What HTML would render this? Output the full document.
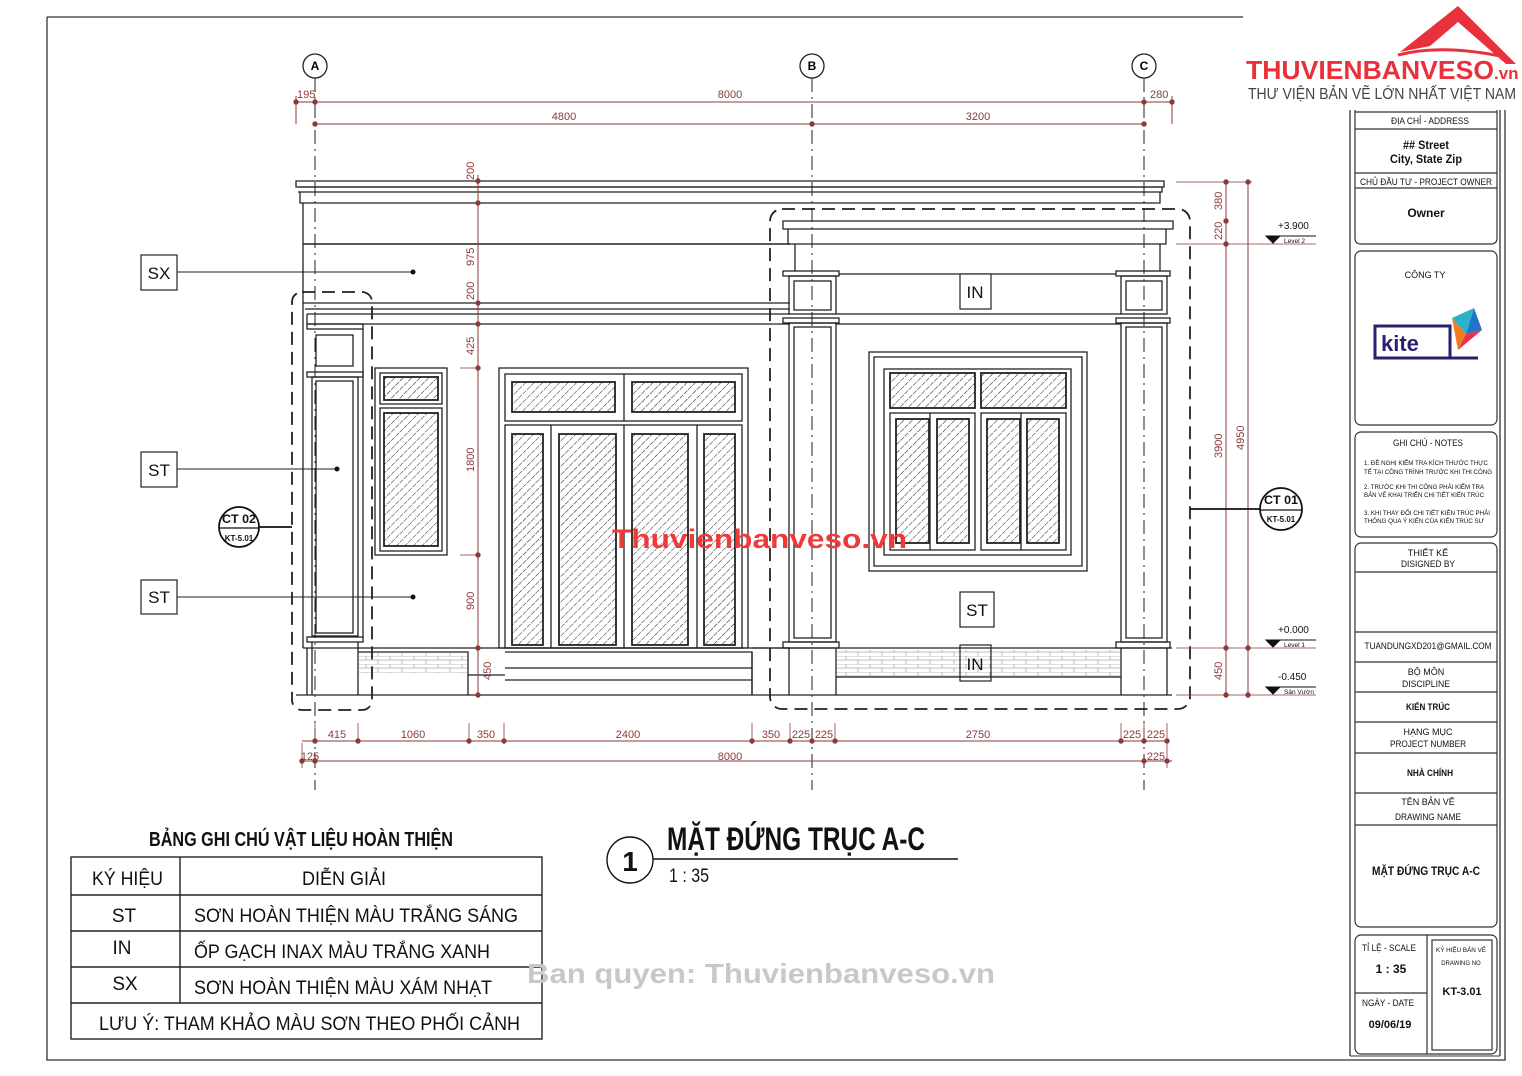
<!DOCTYPE html>
<html><head><meta charset="utf-8"><style>
html,body{margin:0;padding:0;background:#fff}
svg{display:block}
text{font-family:"Liberation Sans Narrow","Liberation Sans","DejaVu Sans",sans-serif}
.d{fill:#8b3a3a;font-size:11px}
.b{font-family:"Liberation Sans",sans-serif}
</style></head><body>
<svg width="1522" height="1076" viewBox="0 0 1522 1076" xmlns="http://www.w3.org/2000/svg">
<defs>
<pattern id="h" width="6" height="6" patternUnits="userSpaceOnUse" patternTransform="rotate(45)">
<line x1="0" y1="0" x2="0" y2="6" stroke="#222" stroke-width="1" stroke-dasharray="5 1.5"/>
</pattern>
<pattern id="br" width="24" height="8" patternUnits="userSpaceOnUse">
<rect width="24" height="8" fill="#fff"/>
<path d="M0 0H24M0 4H24M6 0V4M18 4V8" stroke="#aaa" stroke-width="0.8"/>
</pattern>
</defs>
<rect width="1522" height="1076" fill="#fff"/>
<path d="M47 17H1243M47 17V1060H1505V110M1350 110V1056M1500 110V1056" stroke="#333" stroke-width="1.3" fill="none"/>
<line x1="1350" y1="1056" x2="1500" y2="1056" stroke="#333"/>
<g stroke="#222" stroke-width="1" stroke-dasharray="14 5 2 5">
<line x1="315" y1="78" x2="315" y2="790"/><line x1="812" y1="78" x2="812" y2="790"/><line x1="1144" y1="78" x2="1144" y2="790"/>
</g>
<g fill="#fff" stroke="#222" stroke-width="1.3">
<circle cx="315" cy="66" r="12"/><circle cx="812" cy="66" r="12"/><circle cx="1144" cy="66" r="12"/>
</g>
<g class="b" font-size="12" font-weight="bold" text-anchor="middle">
<text x="315" y="70">A</text><text x="812" y="70">B</text><text x="1144" y="70">C</text>
</g>
<g stroke="#8b3a3a" stroke-width="1" fill="#8b3a3a">
<line x1="296" y1="102" x2="1172" y2="102"/><line x1="315" y1="124" x2="1144" y2="124"/>
<line x1="296" y1="96" x2="296" y2="124"/><line x1="1172" y1="96" x2="1172" y2="124"/>
<circle cx="296" cy="102" r="2.2"/><circle cx="315" cy="102" r="2.2"/><circle cx="1144" cy="102" r="2.2"/><circle cx="1172" cy="102" r="2.2"/>
<circle cx="315" cy="124" r="2.2"/><circle cx="812" cy="124" r="2.2"/><circle cx="1144" cy="124" r="2.2"/>
</g>
<text class="d" x="297" y="98">195</text><text class="d" x="730" y="98" text-anchor="middle">8000</text><text class="d" x="1150" y="98">280</text>
<text class="d" x="564" y="120" text-anchor="middle">4800</text><text class="d" x="978" y="120" text-anchor="middle">3200</text>

<g stroke="#222" stroke-width="1.3" fill="none">
<path d="M296 181H1164V187H296Z"/><path d="M298 187H1162V192H298"/><path d="M300 192V203H1160V192"/>
<line x1="303" y1="203" x2="303" y2="648"/>
<line x1="303" y1="244" x2="790" y2="244" stroke-width="1.6"/>
<path d="M303 303H790M305 309H790M307 314H790M307 324H790M307 314V324"/>
<rect x="307" y="324" width="56" height="5"/>
<rect x="316" y="335" width="37" height="31"/>
<rect x="307" y="372" width="56" height="5"/>
<rect x="312" y="377" width="46" height="259"/>
<rect x="316" y="381" width="37" height="252"/>
<rect x="307" y="637" width="56" height="5"/>
<line x1="312" y1="642" x2="312" y2="695"/><line x1="358" y1="642" x2="358" y2="695"/>
<line x1="307" y1="648" x2="307" y2="695"/>
<line x1="363" y1="329" x2="363" y2="637"/>
<rect x="375" y="368" width="72" height="187"/>
<rect x="380" y="373" width="62" height="31"/>
<rect x="380" y="408" width="62" height="143"/>
<rect x="499" y="368" width="249" height="280"/>
<rect x="505" y="374" width="237" height="47"/>
<line x1="624" y1="374" x2="624" y2="421"/>
<rect x="505" y="425" width="237" height="223"/>
<line x1="551" y1="425" x2="551" y2="648"/><line x1="624" y1="425" x2="624" y2="648"/><line x1="697" y1="425" x2="697" y2="648"/>
<line x1="303" y1="648" x2="790" y2="648"/>
<path d="M358 652H468V695M505 652H752V695M505 668H752M505 680H752M468 675H505"/>
<line x1="296" y1="695" x2="1172" y2="695"/>
<path d="M783 221H1173V229H783Z"/><path d="M788 229V244H1166V229"/>
<path d="M795 244V271M1160 244V271"/>
<rect x="783" y="271" width="56" height="5"/><rect x="1116" y="271" width="54" height="5"/>
<line x1="839" y1="274" x2="1116" y2="274"/>
<rect x="789" y="276" width="47" height="38"/><rect x="794" y="281" width="37" height="29"/>
<rect x="1121" y="276" width="46" height="38"/><rect x="1126" y="281" width="36" height="29"/>
<line x1="836" y1="314" x2="1121" y2="314"/><line x1="836" y1="324" x2="1121" y2="324"/>
<rect x="783" y="318" width="56" height="5"/><rect x="1116" y="318" width="54" height="5"/>
<rect x="789" y="323" width="47" height="319"/><rect x="794" y="327" width="37" height="311"/>
<rect x="1121" y="323" width="46" height="319"/><rect x="1126" y="327" width="36" height="311"/>
<rect x="783" y="642" width="56" height="6"/><rect x="1116" y="642" width="54" height="6"/>
<line x1="752" y1="648" x2="1172" y2="648"/>
<path d="M789 648V695M836 648V695M1121 648V695M1167 648V695M752 652V695"/>
<rect x="869" y="352" width="218" height="219"/>
<rect x="874" y="357" width="208" height="209"/>
<rect x="884" y="369" width="187" height="186"/>
<rect x="890" y="413" width="85" height="137"/><rect x="981" y="413" width="85" height="137"/>
<line x1="930" y1="413" x2="930" y2="550"/><line x1="1021" y1="413" x2="1021" y2="550"/>
</g>
<g fill="url(#h)" stroke="#222" stroke-width="1.8">
<rect x="384" y="377" width="54" height="23"/><rect x="384" y="413" width="54" height="133"/>
<rect x="512" y="382" width="103" height="30"/><rect x="632" y="382" width="103" height="30"/>
<rect x="512" y="434" width="31" height="211"/><rect x="559" y="434" width="57" height="211"/>
<rect x="632" y="434" width="56" height="211"/><rect x="704" y="434" width="31" height="211"/>
<rect x="890" y="373" width="85" height="35"/><rect x="981" y="373" width="85" height="35"/>
<rect x="896" y="419" width="33" height="124"/><rect x="937" y="419" width="32" height="124"/>
<rect x="987" y="419" width="33" height="124"/><rect x="1027" y="419" width="32" height="124"/>
</g>
<rect x="359" y="653" width="108" height="20" fill="url(#br)"/>
<rect x="837" y="650" width="283" height="27" fill="url(#br)"/>
<line x1="836" y1="677" x2="1121" y2="677" stroke="#222" stroke-width="1.3"/>
<g fill="none" stroke="#222" stroke-width="1.8" stroke-dasharray="13 7">
<rect x="292" y="292" width="80" height="418" rx="10"/>
<rect x="770" y="209" width="420" height="500" rx="12"/>
<line x1="390" y1="648" x2="790" y2="648" stroke-width="1"/>
</g>
<g stroke="#8b3a3a" stroke-width="1" fill="#8b3a3a">
<line x1="478" y1="175" x2="478" y2="695"/>
<line x1="1226" y1="182" x2="1226" y2="695"/><line x1="1248" y1="182" x2="1248" y2="695"/>
<g><circle cx="478" cy="181" r="2.2"/><circle cx="478" cy="203" r="2.2"/><circle cx="478" cy="303" r="2.2"/><circle cx="478" cy="324" r="2.2"/><circle cx="478" cy="368" r="2.2"/><circle cx="478" cy="555" r="2.2"/><circle cx="478" cy="648" r="2.2"/><circle cx="478" cy="695" r="2.2"/>
<circle cx="1226" cy="182" r="2.2"/><circle cx="1226" cy="221" r="2.2"/><circle cx="1226" cy="244" r="2.2"/><circle cx="1226" cy="648" r="2.2"/><circle cx="1226" cy="695" r="2.2"/>
<circle cx="1248" cy="182" r="2.2"/><circle cx="1248" cy="648" r="2.2"/><circle cx="1248" cy="695" r="2.2"/></g>
<path d="M460 368H478M460 555H478M1176 182H1252M1176 244H1316M1176 648H1316M1176 695H1316" stroke-width="0.8"/>
</g>
<g class="d">
<text transform="translate(474 180) rotate(-90)">200</text>
<text transform="translate(474 266) rotate(-90)">975</text>
<text transform="translate(474 300) rotate(-90)">200</text>
<text transform="translate(474 355) rotate(-90)">425</text>
<text transform="translate(474 472) rotate(-90)">1800</text>
<text transform="translate(474 610) rotate(-90)">900</text>
<text transform="translate(491 680) rotate(-90)">450</text>
<text transform="translate(1222 210) rotate(-90)">380</text>
<text transform="translate(1222 240) rotate(-90)">220</text>
<text transform="translate(1222 458) rotate(-90)">3900</text>
<text transform="translate(1244 450) rotate(-90)">4950</text>
<text transform="translate(1222 680) rotate(-90)">450</text>
</g>
<g fill="#111" stroke="#111" stroke-width="1">
<path d="M1266 236H1316"/><path d="M1266 236L1280 236L1273 243Z"/>
<path d="M1266 640H1316"/><path d="M1266 640L1280 640L1273 647Z"/>
<path d="M1266 687H1316"/><path d="M1266 687L1280 687L1273 694Z"/>
</g>
<g font-size="10" fill="#111"><text x="1278" y="229">+3.900</text><text x="1278" y="633">+0.000</text><text x="1278" y="680">-0.450</text></g>
<g font-size="6.5" fill="#111"><text x="1284" y="243">Level 2</text><text x="1284" y="647">Level 1</text><text x="1284" y="694">Sân Vườn</text></g>
<g fill="#fff" stroke="#222" stroke-width="1.2">
<rect x="141" y="255" width="36" height="35"/><rect x="141" y="452" width="36" height="35"/><rect x="141" y="580" width="36" height="34"/>
<rect x="960" y="274" width="31" height="35"/><rect x="960" y="592" width="34" height="35"/>
</g>
<rect x="960" y="645" width="31" height="36" fill="none" stroke="#222" stroke-width="1.2"/>
<g font-size="17" text-anchor="middle" fill="#111">
<text x="159" y="279">SX</text><text x="159" y="476">ST</text><text x="159" y="603">ST</text>
<text x="975" y="298">IN</text><text x="977" y="616">ST</text><text x="975" y="670">IN</text>
</g>
<g stroke="#222" stroke-width="1">
<line x1="177" y1="272" x2="413" y2="272"/><line x1="177" y1="469" x2="337" y2="469"/><line x1="177" y1="597" x2="413" y2="597"/>
</g>
<g fill="#111"><circle cx="413" cy="272" r="2.5"/><circle cx="337" cy="469" r="2.5"/><circle cx="413" cy="597" r="2.5"/></g>
<g stroke="#111" stroke-width="1.8" fill="#fff">
<line x1="259" y1="527" x2="292" y2="527"/><circle cx="239" cy="527" r="20"/><line x1="219" y1="528" x2="259" y2="528" stroke-width="1.2"/>
<line x1="1190" y1="509" x2="1260" y2="509"/><circle cx="1281" cy="509" r="21"/><line x1="1260" y1="510" x2="1302" y2="510" stroke-width="1.2"/>
</g>
<g class="b" font-weight="bold" text-anchor="middle" fill="#111">
<text x="239" y="523" font-size="12" textLength="34" lengthAdjust="spacingAndGlyphs">CT 02</text><text x="239" y="541" font-size="8">KT-5.01</text>
<text x="1281" y="504" font-size="12" textLength="34" lengthAdjust="spacingAndGlyphs">CT 01</text><text x="1281" y="522" font-size="8">KT-5.01</text>
</g>
<g stroke="#8b3a3a" stroke-width="1" fill="#8b3a3a">
<line x1="302" y1="741" x2="1167" y2="741"/><line x1="302" y1="761" x2="1172" y2="761"/>
<path d="M315 723V742M358 723V742M469 723V742M504 723V742M752 723V742M790 723V742M835 723V742M1121 723V742M1167 723V768M302 743V768M1144 723V742" stroke-width="0.8"/>
<g><circle cx="315" cy="741" r="2.2"/><circle cx="358" cy="741" r="2.2"/><circle cx="469" cy="741" r="2.2"/><circle cx="504" cy="741" r="2.2"/><circle cx="752" cy="741" r="2.2"/><circle cx="790" cy="741" r="2.2"/><circle cx="812" cy="741" r="2.2"/><circle cx="835" cy="741" r="2.2"/><circle cx="1121" cy="741" r="2.2"/><circle cx="1144" cy="741" r="2.2"/><circle cx="1167" cy="741" r="2.2"/>
<circle cx="302" cy="761" r="2.2"/><circle cx="315" cy="761" r="2.2"/><circle cx="1144" cy="761" r="2.2"/><circle cx="1167" cy="761" r="2.2"/></g>
</g>
<g class="d" text-anchor="middle">
<text x="337" y="738">415</text><text x="413" y="738">1060</text><text x="486" y="738">350</text><text x="628" y="738">2400</text><text x="771" y="738">350</text><text x="801" y="738">225</text><text x="824" y="738">225</text><text x="978" y="738">2750</text><text x="1132" y="738">225</text><text x="1156" y="738">225</text>
<text x="310" y="760">125</text><text x="730" y="760">8000</text><text x="1156" y="760">225</text>
</g>
<text class="b" x="612" y="548" font-size="27" font-weight="bold" fill="#f03a3a" textLength="295" lengthAdjust="spacingAndGlyphs">Thuvienbanveso.vn</text>
<text x="149" y="846" font-size="20" font-weight="bold" fill="#111" textLength="304" lengthAdjust="spacingAndGlyphs">BẢNG GHI CHÚ VẬT LIỆU HOÀN THIỆN</text>
<g stroke="#222" stroke-width="1.4" fill="none">
<rect x="71" y="857" width="471" height="182"/>
<path d="M71 895H542M71 931H542M71 967H542M71 1003H542M180 857V1003"/>
</g>
<g font-size="19" fill="#111" lengthAdjust="spacingAndGlyphs">
<text x="92" y="885" textLength="71" lengthAdjust="spacingAndGlyphs">KÝ HIỆU</text><text x="302" y="885" textLength="84" lengthAdjust="spacingAndGlyphs">DIỄN GIẢI</text>
<text x="124" y="922" text-anchor="middle">ST</text><text x="194" y="922" textLength="324" lengthAdjust="spacingAndGlyphs">SƠN HOÀN THIỆN MÀU TRẮNG SÁNG</text>
<text x="122" y="954" text-anchor="middle">IN</text><text x="194" y="958" textLength="296" lengthAdjust="spacingAndGlyphs">ỐP GẠCH INAX MÀU TRẮNG XANH</text>
<text x="125" y="990" text-anchor="middle">SX</text><text x="194" y="994" textLength="298" lengthAdjust="spacingAndGlyphs">SƠN HOÀN THIỆN MÀU XÁM NHẠT</text>
<text x="99" y="1030" textLength="421" lengthAdjust="spacingAndGlyphs">LƯU Ý: THAM KHẢO MÀU SƠN THEO PHỐI CẢNH</text>
</g>
<text class="b" x="527" y="983" font-size="28" font-weight="bold" fill="#c8c8c8" textLength="468" lengthAdjust="spacingAndGlyphs">Ban quyen: Thuvienbanveso.vn</text>
<circle cx="630" cy="860" r="23" fill="none" stroke="#111" stroke-width="1.4"/>
<text x="630" y="871" font-size="28" font-weight="bold" text-anchor="middle" fill="#111">1</text>
<line x1="653" y1="859" x2="958" y2="859" stroke="#111" stroke-width="1.4"/>
<text x="667" y="850" font-size="32" font-weight="bold" fill="#111" textLength="258" lengthAdjust="spacingAndGlyphs">MẶT ĐỨNG TRỤC A-C</text>
<text x="669" y="882" font-size="19" fill="#111" textLength="40" lengthAdjust="spacingAndGlyphs">1 : 35</text>
<path d="M1400 52L1458 6L1516 64L1506 64L1458 22L1430 46Z" fill="#e8313a"/>
<path d="M1398 55Q1440 44 1500 56" stroke="#e8313a" stroke-width="3" fill="none"/>
<text class="b" x="1246" y="79" font-size="26" font-weight="bold" fill="#e8313a" textLength="248" lengthAdjust="spacingAndGlyphs">THUVIENBANVESO</text>
<text class="b" x="1494" y="79" font-size="17" font-weight="bold" fill="#e8313a">.vn</text>
<text x="1248" y="99" font-size="16" fill="#444" textLength="268" lengthAdjust="spacingAndGlyphs">THƯ VIỆN BẢN VẼ LỚN NHẤT VIỆT NAM</text>
<g stroke="#333" stroke-width="1.2" fill="none">
<path d="M1355 110V238Q1355 244 1361 244H1491Q1497 244 1497 238V110"/>
<path d="M1355 129H1497M1355 173H1497M1355 188H1497M1355 112H1497"/>
<rect x="1355" y="251" width="142" height="174" rx="6"/>
<rect x="1355" y="432" width="142" height="105" rx="6"/>
<rect x="1355" y="543" width="142" height="384" rx="6"/>
<path d="M1355 572H1497M1355 632H1497M1355 662H1497M1355 692H1497M1355 722H1497M1355 753H1497M1355 793H1497M1355 825H1497"/>
<rect x="1355" y="935" width="142" height="119" rx="6"/>
<path d="M1427 935V1054M1355 993H1427"/>
<rect x="1432" y="940" width="60" height="110"/>
</g>
<g font-size="9" fill="#111" text-anchor="middle">
<text x="1430" y="124" textLength="78" lengthAdjust="spacingAndGlyphs">ĐỊA CHỈ - ADDRESS</text>
<text x="1426" y="149" font-size="11.5" font-weight="bold" textLength="46" lengthAdjust="spacingAndGlyphs">## Street</text>
<text x="1426" y="163" font-size="11.5" font-weight="bold" textLength="72" lengthAdjust="spacingAndGlyphs">City, State  Zip</text>
<text x="1426" y="185" textLength="132" lengthAdjust="spacingAndGlyphs">CHỦ ĐẦU TƯ - PROJECT OWNER</text>
<text x="1426" y="217" font-size="12" font-weight="bold">Owner</text>
<text x="1425" y="278">CÔNG TY</text>
<text x="1428" y="446" textLength="70" lengthAdjust="spacingAndGlyphs">GHI CHÚ - NOTES</text>
<text x="1428" y="556">THIẾT KẾ</text><text x="1428" y="567" textLength="54" lengthAdjust="spacingAndGlyphs">DISIGNED BY</text>
<text x="1428" y="649" textLength="127" lengthAdjust="spacingAndGlyphs">TUANDUNGXD201@GMAIL.COM</text>
<text x="1426" y="675">BỘ MÔN</text><text x="1426" y="687" textLength="48" lengthAdjust="spacingAndGlyphs">DISCIPLINE</text>
<text x="1428" y="710" font-weight="bold" textLength="44" lengthAdjust="spacingAndGlyphs">KIẾN TRÚC</text>
<text x="1428" y="735">HẠNG MỤC</text><text x="1428" y="747" textLength="76" lengthAdjust="spacingAndGlyphs">PROJECT NUMBER</text>
<text x="1430" y="776" font-weight="bold" textLength="46" lengthAdjust="spacingAndGlyphs">NHÀ CHÍNH</text>
<text x="1428" y="805">TÊN BẢN VẼ</text><text x="1428" y="820" textLength="66" lengthAdjust="spacingAndGlyphs">DRAWING NAME</text>
<text x="1426" y="875" font-size="11.5" font-weight="bold" textLength="108" lengthAdjust="spacingAndGlyphs">MẶT ĐỨNG TRỤC A-C</text>
<text x="1389" y="951" textLength="54" lengthAdjust="spacingAndGlyphs">TỈ LỆ - SCALE</text>
<text x="1391" y="973" font-size="12" font-weight="bold">1 : 35</text>
<text x="1388" y="1006" textLength="52" lengthAdjust="spacingAndGlyphs">NGÀY - DATE</text>
<text x="1390" y="1028" font-size="11" font-weight="bold">09/06/19</text>
<text x="1461" y="952" font-size="6" textLength="50" lengthAdjust="spacingAndGlyphs">KÝ HIỆU BẢN VẼ</text><text x="1461" y="965" font-size="6">DRAWING NO</text>
<text x="1462" y="995" font-size="11" font-weight="bold">KT-3.01</text>
</g>
<g font-size="6" fill="#111" lengthAdjust="spacingAndGlyphs">
<text x="1364" y="465" textLength="124" lengthAdjust="spacingAndGlyphs">1. ĐỀ NGHỊ KIỂM TRA KÍCH THƯỚC THỰC</text><text x="1364" y="474" textLength="128" lengthAdjust="spacingAndGlyphs">TẾ TẠI CÔNG TRÌNH TRƯỚC KHI THI CÔNG</text>
<text x="1364" y="489" textLength="120" lengthAdjust="spacingAndGlyphs">2. TRƯỚC KHI THI CÔNG PHẢI KIỂM TRA</text><text x="1364" y="497" textLength="120" lengthAdjust="spacingAndGlyphs">BẢN VẼ KHAI TRIỂN CHI TIẾT KIẾN TRÚC</text>
<text x="1364" y="515" textLength="126" lengthAdjust="spacingAndGlyphs">3. KHI THAY ĐỔI CHI TIẾT KIẾN TRÚC PHẢI</text><text x="1364" y="523" textLength="120" lengthAdjust="spacingAndGlyphs">THÔNG QUA Ý KIẾN CỦA KIẾN TRÚC SƯ</text>
</g>
<rect x="1375" y="326" width="75" height="32" fill="none" stroke="#2b1f6e" stroke-width="3"/>
<path d="M1450 326V358H1478" fill="none" stroke="#2b1f6e" stroke-width="3"/>
<text class="b" x="1381" y="351" font-size="22" font-weight="bold" fill="#2b1f6e">kite</text>
<path d="M1452 318L1474 308L1466 334Z" fill="#2ab3c8"/>
<path d="M1452 318L1466 334L1458 350Z" fill="#f07c1e"/>
<path d="M1474 308L1482 330L1466 334Z" fill="#1f76c8"/>
<path d="M1466 334L1482 330L1458 350Z" fill="#e8314a"/>
</svg>
</body></html>
